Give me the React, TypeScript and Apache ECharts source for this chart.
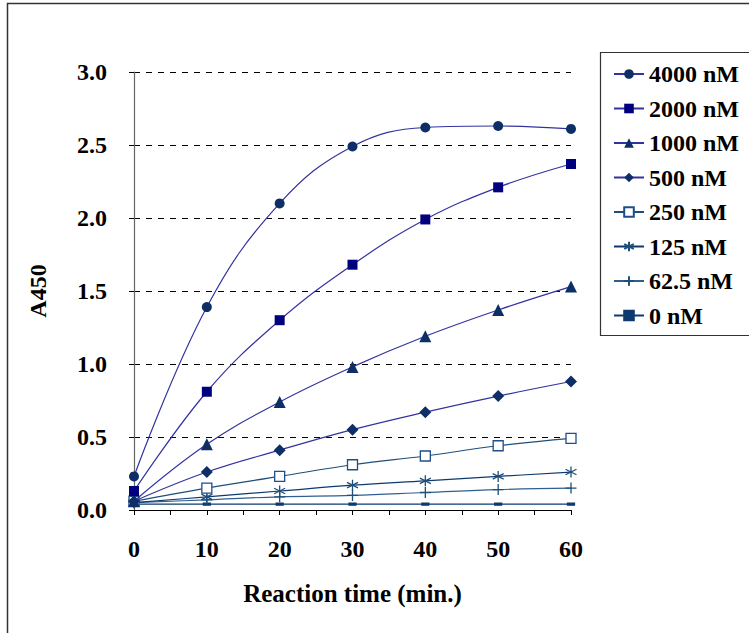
import React, { useEffect, useRef } from "react";
import * as echarts from "echarts";

const times = [0, 10, 20, 30, 40, 50, 60];
const seriesNames = ["4000 nM", "2000 nM", "1000 nM", "500 nM", "250 nM", "125 nM", "62.5 nM", "0 nM"];
const s4000 = [0.23, 1.39, 2.1, 2.49, 2.62, 2.63, 2.61];
const s2000 = [0.13, 0.81, 1.3, 1.68, 1.99, 2.21, 2.37];
const s1000 = [0.06, 0.45, 0.74, 0.98, 1.19, 1.37, 1.53];
const s500 = [0.06, 0.26, 0.41, 0.55, 0.67, 0.78, 0.88];
const s250 = [0.06, 0.15, 0.23, 0.31, 0.37, 0.44, 0.49];
const s125 = [0.05, 0.09, 0.13, 0.17, 0.2, 0.23, 0.26];
const s62 = [0.05, 0.07, 0.09, 0.1, 0.12, 0.14, 0.15];
const s0 = [0.04, 0.04, 0.04, 0.04, 0.04, 0.04, 0.04];
const allValues = [s4000, s2000, s1000, s500, s250, s125, s62, s0];
const yTicks = [0, 0.5, 1.0, 1.5, 2.0, 2.5, 3.0];

const FONT = "'Liberation Serif', 'Times New Roman', serif";

const asterisk = "path://M5,0L5,10M0.7,2.5L9.3,7.5M9.3,2.5L0.7,7.5";
const plus = "path://M0,5L10,5M5,0L5,10";

const styles = [
  { symbol: "circle", size: 10, fill: "#0d2f66", border: "#0d2f66", line: "#3333a0" },
  { symbol: "rect", size: 10, fill: "#00007f", border: "#00007f", line: "#3333a0" },
  { symbol: "triangle", size: 12, fill: "#0d2f66", border: "#0d2f66", line: "#3333a0" },
  { symbol: "diamond", size: 12, fill: "#0d2f66", border: "#0d2f66", line: "#3333a0" },
  { symbol: "rect", size: 10, fill: "#ffffff", border: "#1f4e89", line: "#1f4e79" },
  { symbol: asterisk, size: 11, fill: "none", border: "#1f4e79", line: "#0d3a6e" },
  { symbol: plus, size: 11, fill: "none", border: "#1f4e79", line: "#2f5f8f" },
  { symbol: "rect", size: [5, 2], fill: "#0d3a6e", border: "#0d3a6e", line: "#0d3a6e" },
];

export default function App() {
  const ref = useRef<HTMLDivElement>(null);
  useEffect(() => {
    if (!ref.current) return;
    const chart = echarts.init(ref.current, undefined, { renderer: "svg" });
    const series = seriesNames.map((name, i) => {
      const st = styles[i];
      return {
        name,
        type: "line",
        smooth: 0.4,
        data: times.map((t, j) => [t, allValues[i][j]]),
        symbol: st.symbol,
        symbolSize: st.size,
        showAllSymbol: true,
        itemStyle: {
          color: st.fill,
          borderColor: st.border,
          borderWidth: i >= 4 ? 1.3 : 0,
        },
        lineStyle: { color: st.line, width: 1.2 },
        z: 10 - i,
      };
    });
    chart.setOption({
      animation: false,
      backgroundColor: "#ffffff",
      textStyle: { fontFamily: FONT },
      grid: { left: 134, right: 178, top: 72, bottom: 123, containLabel: false },
      xAxis: {
        type: "value",
        min: 0,
        max: 60,
        interval: 10,
        name: "Reaction time (min.)",
        nameLocation: "middle",
        nameGap: 71,
        nameTextStyle: { fontFamily: FONT, fontWeight: "bold", fontSize: 25, color: "#000" },
        axisLine: { show: true, lineStyle: { color: "#000", width: 1.2 } },
        axisTick: { show: true, length: 5, lineStyle: { color: "#000" } },
        minorTick: { show: true, splitNumber: 2, length: 5, lineStyle: { color: "#000" } },
        axisLabel: { fontFamily: FONT, fontWeight: "bold", fontSize: 24, color: "#000", margin: 27 },
        splitLine: { show: false },
      },
      yAxis: {
        type: "value",
        min: 0,
        max: 3,
        interval: 0.5,
        name: "A450",
        nameLocation: "middle",
        nameGap: 84,
        nameRotate: 90,
        nameTextStyle: { fontFamily: FONT, fontWeight: "bold", fontSize: 24, color: "#000" },
        axisLine: { show: true, lineStyle: { color: "#666", width: 1.2 } },
        axisTick: { show: true, inside: false, length: 5, lineStyle: { color: "#000" } },
        axisLabel: {
          fontFamily: FONT,
          fontWeight: "bold",
          fontSize: 24,
          color: "#000",
          margin: 27,
          formatter: (v: number) => (yTicks.includes(v) ? v.toFixed(1) : ""),
        },
        splitLine: { show: true, lineStyle: { color: "#000", type: [6, 6], width: 1 } },
      },
      legend: {
        orient: "vertical",
        left: 608,
        top: 57,
        itemWidth: 30,
        itemHeight: 12,
        itemGap: 10.5,
        data: seriesNames,
        textStyle: { fontFamily: FONT, fontWeight: "bold", fontSize: 24, color: "#000" },
      },
      graphic: [
        {
          type: "rect",
          shape: { x: 7.5, y: 3.5, width: 800, height: 700 },
          style: { fill: "none", stroke: "#333", lineWidth: 1.5 },
          silent: true,
        },
        {
          type: "rect",
          shape: { x: 600.5, y: 52.5, width: 200, height: 283 },
          style: { fill: "none", stroke: "#333", lineWidth: 1.2 },
          silent: true,
        },
      ],
      series,
    });
    return () => chart.dispose();
  }, []);
  return (
    <div
      ref={ref}
      style={{ position: "fixed", left: 0, top: 0, width: 749, height: 633, background: "#fff" }}
    />
  );
}
